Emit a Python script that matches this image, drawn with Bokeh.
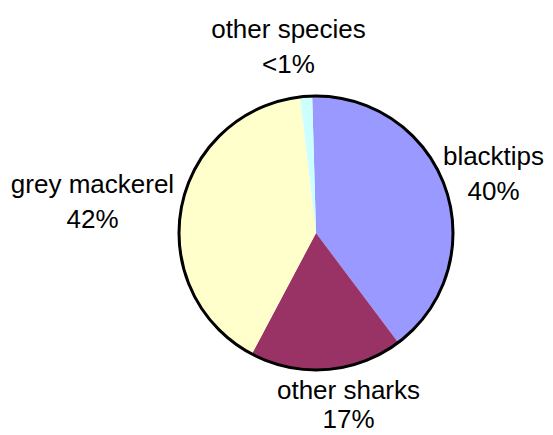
from math import radians
from bokeh.plotting import figure
from bokeh.models import Range1d, ColumnDataSource
from bokeh.core.properties import value
from bokeh.embed import file_html
from bokeh.resources import INLINE

# Data
categories = ["blacktips", "other sharks", "grey mackerel", "other species"]
shares = [40.2, 18.0, 40.4, 1.4]          # slice sizes as drawn (percent)
pct_labels = ["40%", "17%", "42%", "<1%"]  # labels as printed
colors = ["#9999FF", "#993366", "#FFFFCC", "#CCFFFF"]

W, H = 553, 435
p = figure(width=W, height=H, output_backend="svg", toolbar_location=None,
           x_range=Range1d(0, W), y_range=Range1d(0, H),
           min_border=0, outline_line_color=None)
p.axis.visible = False
p.grid.visible = False
p.background_fill_color = "white"
p.border_fill_color = "white"

cx, cy, r = 315.5, H - 232.5, 137.0
start_offset = 1.6  # degrees counter-clockwise of 12 o'clock

total = sum(shares)
starts, ends = [], []
acc = 0.0
for s in shares:
    a0 = 90 + start_offset - acc / total * 360
    acc += s
    a1 = 90 + start_offset - acc / total * 360
    starts.append(radians(a0))
    ends.append(radians(a1))

src = ColumnDataSource(dict(start=starts, end=ends, color=colors, cat=categories))
p.wedge(x=cx, y=cy, radius=r, start_angle="start", end_angle="end",
        direction="clock", fill_color="color", line_color=None, source=src)
p.circle(x=[cx], y=[cy], radius=r, fill_color=None, line_color="black", line_width=3)

# label placement (screen px: center x, baseline y of name, baseline y of percent)
label_pos = {
    "blacktips": (493, 155, 190),
    "other sharks": (348, 389, 418),
    "grey mackerel": (92, 183, 218),
    "other species": (288, 28, 63),
}
xs, ys, txt = [], [], []
for cat, pl in zip(categories, pct_labels):
    x, b1, b2 = label_pos[cat]
    xs += [x, x]
    ys += [H - b1, H - b2]
    txt += [cat, pl]
p.text(x=xs, y=ys, text=txt, text_align="center", text_baseline="alphabetic",
       text_font=value("Liberation Sans"), text_font_size="26px", text_color="black")

open("out.html", "w").write(file_html(p, INLINE))
